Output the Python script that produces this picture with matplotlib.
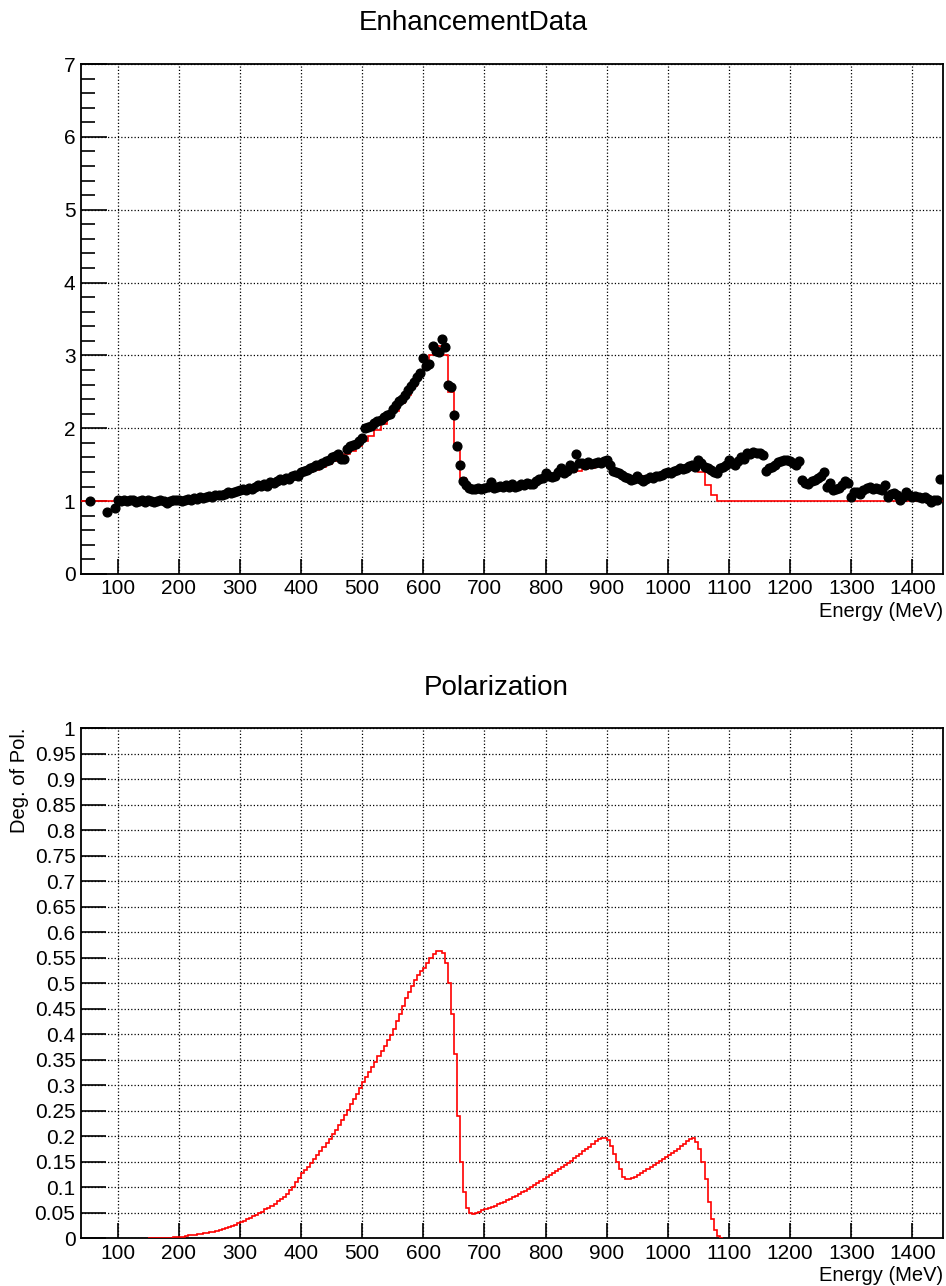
import numpy as np
import matplotlib.pyplot as plt
from matplotlib.ticker import MultipleLocator

plt.rcParams['font.family'] = ['Liberation Sans', 'DejaVu Sans']

# ---- Enhancement data points (black dots) ----
first_e = [55, 82, 96]
first_v = [1.00, 0.85, 0.90]

# values every 5 MeV starting at 100 MeV
data_v = [
    1.02, 1.00, 1.01, 1.00, 1.02, 1.01, 0.99, 1.00, 1.01, 0.99, 1.02, 1.00, 0.99, 1.00, 1.01, 1.00, 0.98, 1.00, 1.02, 1.01,
    1.01, 1.00, 1.02, 1.03, 1.02, 1.04, 1.03, 1.05, 1.04, 1.06, 1.07, 1.06, 1.08, 1.09, 1.08, 1.10, 1.12, 1.11, 1.13, 1.14,
    1.15, 1.16, 1.15, 1.18, 1.17, 1.20, 1.22, 1.21, 1.24, 1.21, 1.26, 1.25, 1.28, 1.30, 1.29, 1.32, 1.31, 1.35, 1.36, 1.34,
    1.40, 1.42, 1.43, 1.45, 1.47, 1.49, 1.50, 1.52, 1.55, 1.57, 1.60, 1.62, 1.64, 1.58, 1.58, 1.72, 1.75, 1.77, 1.79, 1.82,
    1.86, 2.00, 2.02, 2.03, 2.07, 2.10, 2.12, 2.15, 2.18, 2.20, 2.27, 2.32, 2.38, 2.40, 2.45, 2.52, 2.58, 2.63, 2.70, 2.76,
    2.96, 2.86, 2.88, 3.13, 3.06, 3.04, 3.22, 3.11, 2.60, 2.56, 2.18, 1.76, 1.50, 1.28, 1.22, 1.18, 1.17, 1.16, 1.18, 1.17,
    1.18, 1.19, 1.26, 1.18, 1.20, 1.21, 1.19, 1.22, 1.20, 1.23, 1.19, 1.21, 1.24, 1.22, 1.25, 1.23, 1.24, 1.27, 1.30, 1.32,
    1.38, 1.34, 1.33, 1.35, 1.40, 1.45, 1.38, 1.42, 1.50, 1.46, 1.64, 1.52, 1.52, 1.50, 1.53, 1.51, 1.52, 1.54, 1.52, 1.55,
    1.57, 1.50, 1.42, 1.40, 1.38, 1.36, 1.33, 1.32, 1.29, 1.31, 1.34, 1.30, 1.27, 1.30, 1.33, 1.32, 1.34, 1.35, 1.36, 1.38,
    1.40, 1.39, 1.42, 1.43, 1.45, 1.44, 1.46, 1.48, 1.50, 1.47, 1.57, 1.52, 1.47, 1.45, 1.43, 1.40, 1.38, 1.45, 1.47, 1.50,
    1.57, 1.52, 1.50, 1.55, 1.61, 1.58, 1.66, 1.64, 1.68, 1.66, 1.66, 1.63, 1.41, 1.45, 1.47, 1.50, 1.53, 1.55, 1.57, 1.56,
    1.55, 1.52, 1.50, 1.55, 1.29, 1.25, 1.24, 1.28, 1.29, 1.32, 1.34, 1.40, 1.20, 1.25, 1.15, 1.17, 1.18, 1.22, 1.27, 1.25,
    1.06, 1.12, 1.13, 1.10, 1.15, 1.18, 1.20, 1.17, 1.18, 1.16, 1.15, 1.22, 1.06, 1.10, 1.11, 1.08, 1.01, 1.05, 1.13, 1.09,
    1.06, 1.07, 1.06, 1.04, 1.05, 1.03, 0.99, 1.02, 1.01, 1.30,
]
data_e = np.concatenate([first_e, 100 + 5 * np.arange(len(data_v))])
data_all = np.concatenate([first_v, data_v])

# ---- Fitted enhancement (red histogram), 10 MeV bins from 40 MeV ----
fit_v = [
    1.00, 1.00, 1.00, 1.00, 1.00, 1.00, 1.00, 1.00, 1.00, 1.00, 1.00, 1.00, 1.00, 1.00,
    1.01, 1.01, 1.02, 1.02, 1.03, 1.04, 1.05, 1.06, 1.07, 1.08, 1.10, 1.11,
    1.13, 1.15, 1.17, 1.19, 1.21, 1.23, 1.26, 1.28, 1.31, 1.34,
    1.37, 1.40, 1.43, 1.47, 1.51, 1.55, 1.59, 1.64, 1.69, 1.75,
    1.82, 1.90, 1.98, 2.06, 2.15, 2.24, 2.35, 2.46, 2.58, 2.72,
    2.86, 3.00, 3.13, 3.00, 2.50, 1.75, 1.32, 1.20, 1.16, 1.16,
    1.17, 1.18, 1.19, 1.20, 1.21, 1.22, 1.24, 1.25, 1.27, 1.29,
    1.31, 1.33, 1.35, 1.37, 1.40, 1.42, 1.44, 1.46, 1.49, 1.51,
    1.50, 1.42, 1.34, 1.30, 1.30, 1.32, 1.34, 1.36, 1.37, 1.39,
    1.41, 1.43, 1.45, 1.50, 1.51, 1.40, 1.22, 1.08, 1.00, 1.00,
    1.00, 1.00, 1.00, 1.00, 1.00, 1.00, 1.00, 1.00, 1.00, 1.00,
    1.00, 1.00, 1.00, 1.00, 1.00, 1.00, 1.00, 1.00, 1.00, 1.00,
    1.00, 1.00, 1.00, 1.00, 1.00, 1.00, 1.00, 1.00, 1.00, 1.00,
    1.00, 1.00, 1.00, 1.00, 1.00,
]
fit_edges = 40 + 10 * np.arange(len(fit_v) + 1)

# ---- Degree of polarization (red histogram), 5 MeV bins from 150 MeV ----
pol_v = [
    0.000, 0.000, 0.000, 0.000, 0.001, 0.001, 0.001, 0.001, 0.002, 0.002,
    0.003, 0.003, 0.004, 0.005, 0.006, 0.006, 0.007, 0.008, 0.009, 0.010,
    0.011, 0.012, 0.014, 0.015, 0.017, 0.019, 0.021, 0.023, 0.026, 0.029,
    0.032, 0.034, 0.037, 0.040, 0.043, 0.046, 0.049, 0.052, 0.056, 0.059,
    0.063, 0.067, 0.072, 0.076, 0.080, 0.086, 0.094, 0.101, 0.110, 0.118,
    0.127, 0.133, 0.140, 0.147, 0.155, 0.162, 0.170, 0.178, 0.187, 0.195,
    0.203, 0.212, 0.222, 0.232, 0.242, 0.252, 0.262, 0.272, 0.283, 0.294,
    0.305, 0.315, 0.325, 0.335, 0.346, 0.356, 0.367, 0.377, 0.388, 0.399,
    0.410, 0.425, 0.440, 0.455, 0.470, 0.483, 0.495, 0.505, 0.515, 0.523,
    0.530, 0.540, 0.550, 0.556, 0.563, 0.563, 0.558, 0.540, 0.500, 0.440,
    0.360, 0.240, 0.150, 0.090, 0.058, 0.049, 0.047, 0.050, 0.052, 0.054,
    0.056, 0.058, 0.061, 0.063, 0.066, 0.068, 0.071, 0.074, 0.077, 0.080,
    0.083, 0.086, 0.090, 0.093, 0.097, 0.100, 0.104, 0.107, 0.111, 0.115,
    0.119, 0.123, 0.127, 0.131, 0.135, 0.139, 0.143, 0.147, 0.152, 0.156,
    0.161, 0.165, 0.170, 0.174, 0.179, 0.184, 0.190, 0.194, 0.197, 0.197,
    0.192, 0.180, 0.165, 0.150, 0.135, 0.120, 0.116, 0.116, 0.117, 0.120,
    0.124, 0.127, 0.131, 0.135, 0.139, 0.143, 0.147, 0.151, 0.155, 0.159,
    0.163, 0.167, 0.171, 0.175, 0.180, 0.185, 0.190, 0.195, 0.196, 0.188,
    0.175, 0.150, 0.115, 0.070, 0.038, 0.015, 0.004, 0.001,
]
pol_edges = 150 + 5 * np.arange(len(pol_v) + 1)

x_ticks = np.arange(100, 1401, 100)
pol_ticks = np.round(np.arange(0, 1.0001, 0.05), 2)

fig = plt.figure(figsize=(9.46, 12.86), dpi=100)
ax1 = fig.add_axes([0.0856, 0.5537, 0.9112, 0.3965])
ax2 = fig.add_axes([0.0856, 0.0373, 0.9112, 0.3966])


def root_style(ax, major_len):
    ax.set_xlim(40, 1450)
    ax.set_xticks(x_ticks)
    ax.grid(True, which='major', color='black', linestyle=':', linewidth=0.9)
    ax.tick_params(axis='both', which='both', direction='in', top=False, right=False,
                   labelsize=15, width=1.2)
    ax.tick_params(axis='x', which='major', length=11, pad=4)
    ax.tick_params(axis='y', which='major', length=major_len, pad=4)
    for s in ax.spines.values():
        s.set_linewidth(1.3)


# Top panel
ax1.stairs(fit_v, fit_edges, baseline=None, color='red', linewidth=1.2, zorder=3)
ax1.plot(data_e, data_all, 'o', color='black', markersize=6.3, zorder=4)
ax1.set_ylim(0, 7)
ax1.yaxis.set_major_locator(MultipleLocator(1))
ax1.yaxis.set_minor_locator(MultipleLocator(0.2))
root_style(ax1, 19)
ax1.tick_params(axis='y', which='minor', length=10, width=1.2)
ax1.text(1.0, -0.055, 'Energy (MeV)', transform=ax1.transAxes, ha='right', va='top', fontsize=14.5)
fig.text(0.5, 0.982, 'EnhancementData', ha='center', va='center', fontsize=20)

# Bottom panel
ax2.stairs(pol_v, pol_edges, baseline=None, color='red', linewidth=1.2, zorder=3)
ax2.set_ylim(0, 1)
ax2.set_yticks(pol_ticks)
ax2.set_yticklabels(['%g' % t for t in pol_ticks])
root_style(ax2, 18)
ax2.text(1.0, -0.055, 'Energy (MeV)', transform=ax2.transAxes, ha='right', va='top', fontsize=14.5)
fig.text(0.021, 0.434, 'Deg. of Pol.', rotation=90, ha='center', va='top', fontsize=14.5)
fig.text(0.525, 0.465, 'Polarization', ha='center', va='center', fontsize=20)

fig.savefig('out.png', dpi=100)
